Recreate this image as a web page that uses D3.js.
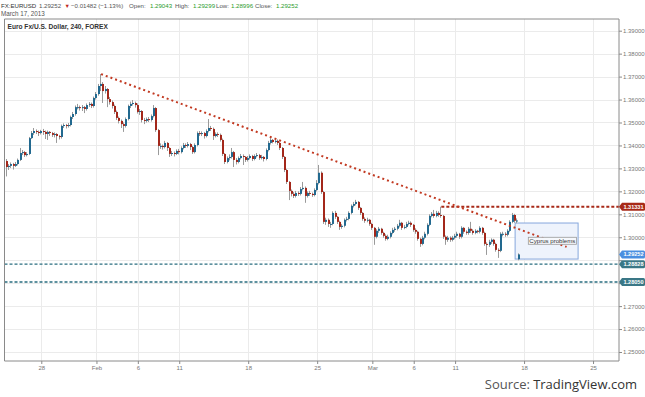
<!DOCTYPE html>
<html><head><meta charset="utf-8">
<script src="https://cdn.jsdelivr.net/npm/d3@7"></script>
<style>
body{margin:0;background:#fff;}
svg{display:block;font-family:"Liberation Sans",Arial,sans-serif;}
</style>
</head><body>
<svg id="chart" width="645" height="397"></svg>
<script>
// ---- data (4-hour EUR/USD bars, index 0 = first bar shown) ----
const opens=[
1.3332,1.3306,1.3311,1.3319,1.3311,1.3319,1.3337,1.3367,1.3371,1.3358,
1.3363,1.3432,1.3454,1.3463,1.3459,1.3454,1.3463,1.3459,1.3450,1.3459,
1.3454,1.3446,1.3450,1.3441,1.3437,1.3485,1.3489,1.3485,1.3489,1.3524,
1.3537,1.3567,1.3567,1.3563,1.3567,1.3559,1.3576,1.3581,1.3572,1.3607,
1.3624,1.3659,1.3668,1.3637,1.3646,1.3602,1.3589,1.3572,1.3546,1.3520,
1.3507,1.3493,1.3485,1.3515,1.3572,1.3581,1.3585,1.3576,1.3546,1.3550,
1.3511,1.3507,1.3515,1.3511,1.3528,1.3563,1.3467,1.3398,1.3398,1.3393,
1.3411,1.3389,1.3363,1.3367,1.3363,1.3376,1.3371,1.3389,1.3402,1.3398,
1.3406,1.3393,1.3371,1.3402,1.3454,1.3450,1.3454,1.3441,1.3463,1.3476,
1.3472,1.3441,1.3450,1.3446,1.3424,1.3363,1.3328,1.3345,1.3350,1.3371,
1.3337,1.3328,1.3345,1.3354,1.3350,1.3337,1.3345,1.3354,1.3341,1.3354,
1.3358,1.3345,1.3350,1.3341,1.3380,1.3411,1.3424,1.3415,1.3420,1.3411,
1.3389,1.3350,1.3293,1.3241,1.3202,1.3189,1.3180,1.3193,1.3189,1.3210,
1.3215,1.3180,1.3193,1.3189,1.3184,1.3206,1.3236,1.3281,1.3197,1.3067,
1.3076,1.3058,1.3058,1.3106,1.3089,1.3067,1.3045,1.3050,1.3076,1.3080,
1.3106,1.3137,1.3145,1.3154,1.3128,1.3106,1.3080,1.3072,1.3076,1.3058,
1.3041,1.3002,1.3028,1.3037,1.3019,1.3006,1.2993,1.3002,1.3019,1.3032,
1.3037,1.3050,1.3063,1.3041,1.3045,1.3058,1.3063,1.3054,1.3032,1.3024,
1.2993,1.2971,1.2998,1.3015,1.3054,1.3093,1.3102,1.3093,1.3106,1.3097,
1.3093,1.3002,1.2989,1.2998,1.2989,1.2998,1.3006,1.3015,1.3002,1.3041,
1.3024,1.3019,1.3037,1.3028,1.3019,1.3028,1.3024,1.3041,1.3019,1.2971,
1.2967,1.2980,1.2989,1.2971,1.2945,1.2941,1.3015,1.3015,1.3011,1.3028,
1.3067,1.3097,1.3072,1.29043];
const highs=[
1.3341,1.3319,1.3326,1.3324,1.3328,1.3343,1.3389,1.3380,1.3376,1.3371,
1.3437,1.3463,1.3476,1.3470,1.3465,1.3468,1.3472,1.3465,1.3465,1.3463,
1.3459,1.3457,1.3454,1.3446,1.3491,1.3496,1.3494,1.3498,1.3530,1.3546,
1.3574,1.3581,1.3574,1.3576,1.3572,1.3583,1.3589,1.3587,1.3613,1.3633,
1.3668,1.3711,1.3676,1.3659,1.3650,1.3611,1.3596,1.3578,1.3552,1.3526,
1.3513,1.3500,1.3522,1.3578,1.3591,1.3598,1.3591,1.3583,1.3559,1.3554,
1.3520,1.3522,1.3524,1.3535,1.3576,1.3567,1.3472,1.3409,1.3404,1.3420,
1.3415,1.3393,1.3376,1.3374,1.3383,1.3385,1.3396,1.3411,1.3409,1.3415,
1.3411,1.3398,1.3409,1.3461,1.3463,1.3461,1.3459,1.3470,1.3515,1.3485,
1.3478,1.3457,1.3457,1.3452,1.3430,1.3367,1.3352,1.3361,1.3389,1.3376,
1.3345,1.3352,1.3363,1.3361,1.3354,1.3354,1.3361,1.3359,1.3361,1.3367,
1.3363,1.3359,1.3354,1.3387,1.3420,1.3433,1.3428,1.3430,1.3426,1.3417,
1.3393,1.3354,1.3298,1.3245,1.3208,1.3197,1.3202,1.3200,1.3219,1.3241,
1.3221,1.3200,1.3202,1.3195,1.3213,1.3249,1.3315,1.3287,1.3202,1.3085,
1.3082,1.3067,1.3113,1.3115,1.3093,1.3072,1.3058,1.3082,1.3089,1.3113,
1.3143,1.3154,1.3163,1.3158,1.3132,1.3110,1.3087,1.3085,1.3080,1.3063,
1.3045,1.3035,1.3045,1.3041,1.3024,1.3013,1.3011,1.3026,1.3041,1.3045,
1.3058,1.3076,1.3067,1.3054,1.3067,1.3072,1.3069,1.3058,1.3039,1.3028,
1.2998,1.3006,1.3024,1.3061,1.3100,1.3110,1.3119,1.3115,1.3113,1.3133,
1.3097,1.3008,1.3006,1.3004,1.3006,1.3015,1.3024,1.3019,1.3048,1.3045,
1.3030,1.3045,1.3067,1.3035,1.3035,1.3032,1.3048,1.3045,1.3024,1.2978,
1.2989,1.2995,1.2993,1.2976,1.2952,1.3022,1.3024,1.3022,1.3035,1.3074,
1.3106,1.3102,1.3082,1.29299];
const lows=[
1.3265,1.3293,1.3302,1.3295,1.3306,1.3313,1.3332,1.3358,1.3350,1.3352,
1.3358,1.3428,1.3446,1.3450,1.3441,1.3448,1.3446,1.3428,1.3424,1.3441,
1.3437,1.3435,1.3411,1.3426,1.3430,1.3476,1.3474,1.3478,1.3483,1.3515,
1.3530,1.3557,1.3552,1.3550,1.3541,1.3552,1.3568,1.3563,1.3565,1.3600,
1.3617,1.3637,1.3585,1.3626,1.3567,1.3578,1.3561,1.3537,1.3511,1.3496,
1.3476,1.3459,1.3478,1.3509,1.3563,1.3574,1.3565,1.3539,1.3533,1.3500,
1.3493,1.3500,1.3502,1.3504,1.3522,1.3459,1.3358,1.3385,1.3382,1.3387,
1.3376,1.3350,1.3354,1.3352,1.3358,1.3361,1.3365,1.3383,1.3389,1.3391,
1.3380,1.3363,1.3365,1.3396,1.3441,1.3441,1.3430,1.3435,1.3457,1.3463,
1.3424,1.3435,1.3437,1.3417,1.3354,1.3319,1.3322,1.3335,1.3343,1.3306,
1.3317,1.3322,1.3339,1.3315,1.3328,1.3330,1.3339,1.3332,1.3335,1.3348,
1.3337,1.3339,1.3330,1.3335,1.3374,1.3404,1.3409,1.3409,1.3402,1.3380,
1.3341,1.3284,1.3232,1.3162,1.3178,1.3171,1.3173,1.3180,1.3182,1.3204,
1.3150,1.3173,1.3180,1.3176,1.3178,1.3200,1.3230,1.3189,1.3058,1.3054,
1.3045,1.3041,1.3052,1.3080,1.3058,1.3032,1.3037,1.3043,1.3069,1.3074,
1.3100,1.3130,1.3139,1.3119,1.3097,1.3072,1.3063,1.3065,1.3050,1.3032,
1.2967,1.2995,1.3019,1.3011,1.2998,1.2985,1.2987,1.2995,1.3013,1.3024,
1.3030,1.3043,1.3032,1.3035,1.3039,1.3052,1.3045,1.3024,1.3015,1.2985,
1.2958,1.2965,1.2991,1.3008,1.3048,1.3087,1.3085,1.3087,1.3089,1.3085,
1.2993,1.2967,1.2980,1.2980,1.2982,1.2991,1.2998,1.2993,1.2995,1.3015,
1.3011,1.3011,1.3019,1.3011,1.3013,1.3017,1.3017,1.3011,1.2963,1.2923,
1.2958,1.2971,1.2963,1.2937,1.2910,1.2935,1.3004,1.3002,1.3004,1.3022,
1.3061,1.3063,1.3061,1.28996];
const closes=[
1.3306,1.3311,1.3319,1.3311,1.3319,1.3337,1.3367,1.3371,1.3358,1.3363,
1.3432,1.3454,1.3463,1.3459,1.3454,1.3463,1.3459,1.3450,1.3459,1.3454,
1.3446,1.3450,1.3441,1.3437,1.3485,1.3489,1.3485,1.3489,1.3524,1.3537,
1.3567,1.3567,1.3563,1.3567,1.3559,1.3576,1.3581,1.3572,1.3607,1.3624,
1.3659,1.3668,1.3637,1.3646,1.3602,1.3589,1.3572,1.3546,1.3520,1.3507,
1.3493,1.3485,1.3515,1.3572,1.3581,1.3585,1.3576,1.3546,1.3550,1.3511,
1.3507,1.3515,1.3511,1.3528,1.3563,1.3467,1.3398,1.3398,1.3393,1.3411,
1.3389,1.3363,1.3367,1.3363,1.3376,1.3371,1.3389,1.3402,1.3398,1.3406,
1.3393,1.3371,1.3402,1.3454,1.3450,1.3454,1.3441,1.3463,1.3476,1.3472,
1.3441,1.3450,1.3446,1.3424,1.3363,1.3328,1.3345,1.3350,1.3371,1.3337,
1.3328,1.3345,1.3354,1.3350,1.3337,1.3345,1.3354,1.3341,1.3354,1.3358,
1.3345,1.3350,1.3341,1.3380,1.3411,1.3424,1.3415,1.3420,1.3411,1.3389,
1.3350,1.3293,1.3241,1.3202,1.3189,1.3180,1.3193,1.3189,1.3210,1.3215,
1.3180,1.3193,1.3189,1.3184,1.3206,1.3236,1.3281,1.3197,1.3067,1.3076,
1.3058,1.3058,1.3106,1.3089,1.3067,1.3045,1.3050,1.3076,1.3080,1.3106,
1.3137,1.3145,1.3154,1.3128,1.3106,1.3080,1.3072,1.3076,1.3058,1.3041,
1.3002,1.3028,1.3037,1.3019,1.3006,1.2993,1.3002,1.3019,1.3032,1.3037,
1.3050,1.3063,1.3041,1.3045,1.3058,1.3063,1.3054,1.3032,1.3024,1.2993,
1.2971,1.2998,1.3015,1.3054,1.3093,1.3102,1.3093,1.3106,1.3097,1.3093,
1.3002,1.2989,1.2998,1.2989,1.2998,1.3006,1.3015,1.3002,1.3041,1.3024,
1.3019,1.3037,1.3028,1.3019,1.3028,1.3024,1.3041,1.3019,1.2971,1.2967,
1.2980,1.2989,1.2971,1.2945,1.2941,1.3015,1.3015,1.3011,1.3028,1.3067,
1.3097,1.3072,1.3073,1.29252];

// x-axis tick labels and the bar index where each falls
const tickLabels=["28","Feb","6","11","18","25","Mar","6","11","18","25"];
const tickBars=[15,39,57,75,105,135,159,177,195,225,255];
// price axis ticks (1.28 and 1.29 labels are hidden behind the price tags)
const priceTicks=[1.25,1.26,1.27,1.28,1.29,1.30,1.31,1.32,1.33,1.34,1.35,1.36,1.37,1.38,1.39];
const hiddenPriceLabels=[1.28,1.29];

// drawings
const trendFrom=[41,1.3711], trendTo=[243.5,1.2958];
const resistance={level:1.31331,fromBar:189};
const supports=[1.28828,1.28050];
const lastPrice=1.29252;
const note={text:"Cyprus problems",fromBar:221.1,toBar:248.5,top:1.3062,bottom:1.2905,
            textBar:237.3,textPrice:1.2983};

// ---- layout ----
const L=4.5,T=19,R=619,B=361;
const svg=d3.select("#chart");
const x=d3.scaleLinear().domain([0,255]).range([6.8,6.8+255*2.299]);
const y=d3.scaleLinear().domain([1.25,1.39]).range([352.0,30.7]);

const UP="#22698f", DN="#a3271a", WICK="#9a9a9a";

// grid
const g=svg.append("g");
g.selectAll(".hg").data(priceTicks).join("line")
 .attr("x1",L).attr("x2",R).attr("y1",d=>Math.round(y(d))+0.5).attr("y2",d=>Math.round(y(d))+0.5)
 .attr("stroke","#ebebeb").attr("stroke-width",1);
g.selectAll(".vg").data(tickBars).join("line")
 .attr("x1",d=>Math.round(x(d))+0.5).attr("x2",d=>Math.round(x(d))+0.5).attr("y1",T).attr("y2",B)
 .attr("stroke","#ebebeb").attr("stroke-width",1);

// clip
svg.append("clipPath").attr("id","clip").append("rect").attr("x",L).attr("y",T).attr("width",R-L).attr("height",B-T);
const plot=svg.append("g").attr("clip-path","url(#clip)");

// support lines
plot.selectAll(".sup").data(supports).join("line")
 .attr("x1",L).attr("x2",R).attr("y1",d=>y(d)).attr("y2",d=>y(d))
 .attr("stroke","#2a6e80").attr("stroke-width",1.4).attr("stroke-dasharray","3,2");

// resistance
plot.append("line").attr("x1",x(resistance.fromBar)).attr("x2",R)
 .attr("y1",y(resistance.level)).attr("y2",y(resistance.level))
 .attr("stroke","#a82a18").attr("stroke-width",2).attr("stroke-dasharray","3,2");

// note box
plot.append("rect").attr("x",x(note.fromBar)).attr("y",y(note.top))
 .attr("width",x(note.toBar)-x(note.fromBar)).attr("height",y(note.bottom)-y(note.top))
 .attr("fill","#eef3fc").attr("stroke","#86a7dc").attr("stroke-width",1);

// candles
const idx=d3.range(closes.length);
const cg=plot.append("g");
cg.selectAll(".w").data(idx).join("line")
 .attr("x1",i=>Math.round(x(i))-0.5).attr("x2",i=>Math.round(x(i))-0.5)
 .attr("y1",i=>y(highs[i])).attr("y2",i=>y(lows[i]))
 .attr("stroke",WICK).attr("stroke-width",1);
cg.selectAll(".b").data(idx).join("rect")
 .attr("x",i=>Math.round(x(i))-1).attr("width",2)
 .attr("y",i=>y(Math.max(opens[i],closes[i])))
 .attr("height",i=>Math.max(1,Math.abs(y(opens[i])-y(closes[i]))))
 .attr("fill",i=>closes[i]>=opens[i]?UP:DN);

// trend line
plot.append("line").attr("x1",x(trendFrom[0])).attr("y1",y(trendFrom[1]))
 .attr("x2",x(trendTo[0])).attr("y2",y(trendTo[1]))
 .attr("stroke","#c23a22").attr("stroke-width",2).attr("stroke-dasharray","2,3");

// note label
const nl=plot.append("g").attr("transform",`translate(${x(note.textBar)},${y(note.textPrice)})`);
const nt=nl.append("text").text(note.text).attr("text-anchor","middle").attr("dy","0.35em")
 .attr("font-size",6.1).attr("fill","#333");
const bb=nt.node().getBBox();
nl.insert("rect","text").attr("x",bb.x-1).attr("y",bb.y).attr("width",bb.width+2).attr("height",bb.height)
 .attr("fill","#f6f8fc").attr("stroke","#9a9a9a").attr("stroke-width",0.8);

// frame
svg.append("path").attr("d",`M${L},${T}H${R}V${B}H${L}Z`).attr("fill","none").attr("stroke","#8a8a8a").attr("stroke-width",1);

// right axis
const ya=svg.append("g").attr("transform",`translate(${R},0)`)
 .call(d3.axisRight(y).tickValues(priceTicks).tickSize(3)
   .tickFormat(d=>hiddenPriceLabels.some(h=>Math.abs(h-d)<1e-9)?"":d3.format(".5f")(d)));
ya.select(".domain").remove();
ya.selectAll("line").attr("stroke","#8a8a8a");
ya.selectAll("text").attr("font-size",6).attr("fill","#777").attr("x",4).attr("font-family","Liberation Sans, Arial, sans-serif");

// bottom axis
const xa=svg.append("g").attr("transform",`translate(0,${B})`)
 .call(d3.axisBottom(x).tickValues(tickBars).tickSize(3).tickFormat((d,i)=>tickLabels[i]));
xa.select(".domain").remove();
xa.selectAll("line").attr("stroke","#8a8a8a");
xa.selectAll("text").attr("font-size",6).attr("fill","#777").attr("y",5).attr("font-family","Liberation Sans, Arial, sans-serif");

// price tags
const tags=[{v:resistance.level,c:"#a82a18"},{v:lastPrice,c:"#4a8fe0"},{v:supports[0],c:"#3a7786"},{v:supports[1],c:"#3a7786"}];
const tg=svg.append("g").selectAll("g").data(tags).join("g").attr("transform",d=>`translate(${R},${y(d.v)})`);
tg.append("path").attr("d","M0,0L3,-4H24.5Q26,-4 26,-2.5V2.5Q26,4 24.5,4H3Z").attr("fill",d=>d.c);
tg.append("text").text(d=>d3.format(".5f")(d.v)).attr("x",14.5).attr("dy","0.33em").attr("text-anchor","middle")
 .attr("font-size",5.6).attr("font-weight","bold").attr("fill","#fff");

// header
const hdr=svg.append("text").attr("x",1).attr("y",8).attr("font-size",6.1).attr("fill","#555");
hdr.append("tspan").text("FX:EURUSD").attr("fill","#333");
hdr.append("tspan").attr("x",39).text("1.29252").attr("fill","#555");
hdr.append("tspan").attr("x",64.5).text("▼").attr("fill","#c0281c").attr("font-size",5.5);
hdr.append("tspan").attr("x",71).text("−0.01482 (−1.13%)").attr("fill","#555");
hdr.append("tspan").attr("x",129).text("Open:").attr("fill","#555");
hdr.append("tspan").attr("x",150).text("1.29043").attr("fill","#2c9b2c");
hdr.append("tspan").attr("x",175).text("High:").attr("fill","#555");
hdr.append("tspan").attr("x",193).text("1.29299").attr("fill","#2c9b2c");
hdr.append("tspan").attr("x",216).text("Low:").attr("fill","#555");
hdr.append("tspan").attr("x",231).text("1.28996").attr("fill","#2c9b2c");
hdr.append("tspan").attr("x",255).text("Close:").attr("fill","#555");
hdr.append("tspan").attr("x",276).text("1.29252").attr("fill","#2c9b2c");
svg.append("text").attr("x",1).attr("y",15.5).attr("font-size",6.3).attr("fill","#555").text("March 17, 2013");

// chart title
svg.append("text").attr("x",7.5).attr("y",28.5).attr("font-size",6.6).attr("fill","#333").attr("font-weight","bold")
 .text("Euro Fx/U.S. Dollar, 240, FOREX");

// source
svg.append("text").attr("x",530).attr("y",389).attr("font-size",13).attr("fill","#555").attr("text-anchor","end")
 .attr("font-family","'Open Sans', 'Liberation Sans', sans-serif").text("Source:");
svg.append("text").attr("x",637).attr("y",389).attr("font-size",13).attr("fill","#333").attr("text-anchor","end")
 .attr("font-family","'Open Sans', 'Liberation Sans', sans-serif").text("TradingView.com");
</script>
</body></html>
